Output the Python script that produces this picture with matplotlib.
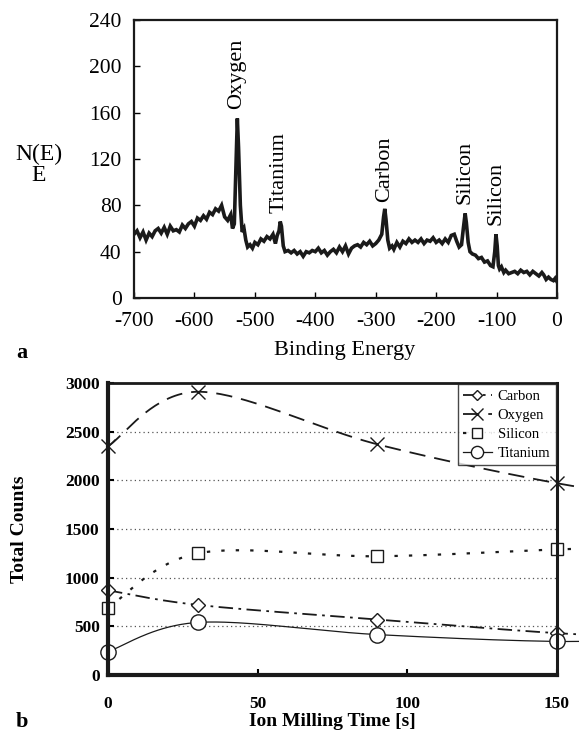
import numpy as np
import matplotlib
matplotlib.use("Agg")
import matplotlib.pyplot as plt
from matplotlib.lines import Line2D

plt.rcParams['font.family'] = ['Liberation Serif', 'DejaVu Serif']
plt.rcParams['axes.unicode_minus'] = False

# ---------------- data: panel a (XPS survey spectrum) ----------------
energy = [-700, -695, -690, -685, -680, -675, -670, -665, -660, -655, -650, -645, -640, -635,
          -630, -625, -620, -615, -610, -605, -600, -595, -590, -585, -580, -575, -570, -565,
          -560, -555, -550, -545, -540, -537, -534, -531, -529, -527, -524, -521, -518, -515,
          -512, -508, -504, -500, -495, -490, -485, -480, -475, -470, -466, -463, -460, -458,
          -456, -453, -450, -445, -440, -435, -430, -425, -420, -415, -410, -405, -400, -395,
          -390, -385, -380, -375, -370, -365, -360, -355, -350, -345, -340, -335, -330, -325,
          -320, -315, -310, -305, -300, -295, -290, -287, -285, -283, -280, -277, -273, -270,
          -265, -260, -255, -250, -245, -240, -235, -230, -225, -220, -215, -210, -205, -200,
          -195, -190, -185, -180, -175, -170, -166, -162, -158, -155, -152, -150, -147, -144,
          -140, -135, -130, -125, -120, -115, -110, -106, -103, -101, -99, -97, -95, -92,
          -88, -85, -80, -75, -70, -65, -60, -55, -50, -45, -40, -35, -30, -25, -22, -18,
          -14, -10, -6, -3, 0]
counts = [55, 58, 52, 57, 50, 56, 53, 58, 60, 56, 61, 55, 62, 58,
          59, 57, 63, 60, 64, 66, 62, 69, 67, 71, 68, 74, 72, 77,
          75, 80, 70, 67, 72, 60, 64, 120, 155, 130, 80, 57, 60, 50,
          44, 46, 43, 48, 46, 51, 49, 53, 51, 55, 47, 54, 58, 66,
          62, 45, 40, 41, 39, 41, 38, 40, 36, 40, 39, 41, 40, 43,
          39, 41, 37, 40, 42, 39, 44, 40, 45, 38, 43, 45, 46, 44,
          48, 46, 49, 45, 47, 50, 55, 70, 77, 68, 50, 43, 45, 42,
          48, 44, 49, 47, 51, 48, 50, 48, 51, 47, 50, 49, 52, 48,
          50, 47, 51, 48, 54, 55, 49, 44, 46, 60, 73, 65, 48, 40,
          38, 37, 34, 35, 31, 32, 28, 27, 40, 55, 45, 28, 25, 27,
          22, 24, 21, 22, 23, 21, 24, 22, 23, 20, 23, 21, 19, 22, 20, 16,
          18, 16, 15, 17, 14]
peak_names = ['Oxygen', 'Titanium', 'Carbon', 'Silicon', 'Silicon']
peak_x = [-530, -460, -286, -152, -101]
peak_label_y = [163, 73, 83, 81, 63]

# ---------------- data: panel b (depth profile) ----------------
mill_time = [0, 30, 90, 150]
carbon = [870, 720, 570, 430]
oxygen = [2350, 2910, 2370, 1970]
silicon = [690, 1250, 1220, 1290]
titanium = [240, 540, 415, 345]
# curve continuation read beyond the right spine (picture is cut at the edge)
tail_time = 185
tail = {'Carbon': 390, 'Oxygen': 1830, 'Silicon': 1320, 'Titanium': 380}


def smooth(xs, ys, n=40):
    """Excel-like smoothed line (Bezier with tension 1/6) through points."""
    P = np.column_stack([xs, ys]).astype(float)
    out = []
    for i in range(len(P) - 1):
        p0 = P[i - 1] if i > 0 else P[i]
        p1, p2 = P[i], P[i + 1]
        p3 = P[i + 2] if i + 2 < len(P) else P[i + 1]
        c1 = p1 + (p2 - p0) / 6.0
        c2 = p2 - (p3 - p1) / 6.0
        t = np.linspace(0, 1, n)[:, None]
        seg = ((1 - t) ** 3) * p1 + 3 * ((1 - t) ** 2) * t * c1 + 3 * (1 - t) * t ** 2 * c2 + t ** 3 * p2
        out.append(seg if i == 0 else seg[1:])
    out = np.vstack(out)
    return out[:, 0], out[:, 1]


W, H = 579, 738
fig = plt.figure(figsize=(W / 100, H / 100), dpi=100)

# ---------------- panel a ----------------
axa = fig.add_axes([134 / W, 1 - 298 / H, (557 - 134) / W, (298 - 20) / H])
axa.plot(energy, counts, color='#1a1a1a', lw=2.6, solid_joinstyle='miter')
axa.set_xlim(-700, 0)
axa.set_ylim(0, 240)
axa.set_xticks(range(-700, 1, 100))
axa.set_yticks(range(0, 241, 40))
axa.tick_params(direction='in', length=4, width=1, labelsize=15.5, pad=9)
axa.tick_params(axis='x', pad=10)
for s in axa.spines.values():
    s.set_linewidth(1.6)
    s.set_color('#1a1a1a')
for name, x, y in zip(peak_names, peak_x, peak_label_y):
    axa.text(x, y, name, rotation=90, ha='center', va='bottom', fontsize=16)
axa.set_xlabel('Binding Energy', fontsize=16)
axa.xaxis.set_label_coords((345 - 134) / 423, -(351 - 298) / 278)
axa.xaxis.label.set_va('center')
fig.text(39 / W, 1 - 165 / H, 'N(E)\nE', ha='center', va='center', fontsize=17, linespacing=1.0)
fig.text(16 / W, 1 - 353 / H, 'a', ha='left', va='center', fontsize=16, fontweight='bold')

# ---------------- panel b ----------------
axb = fig.add_axes([108 / W, 1 - 675 / H, (557 - 108) / W, (675 - 383) / H])
series = [
    ('Carbon', carbon, 'D', (0, (8, 3, 1.5, 3)), 1.3, 7),
    ('Oxygen', oxygen, 'x', (0, (9, 5)), 1.3, 10),
    ('Silicon', silicon, 's', (0, (1.5, 5)), 1.6, 9),
    ('Titanium', titanium, 'o', '-', 0.9, 11),
]
handles = []
for name, vals, mk, ls, lw, ms in series:
    xs = mill_time + [tail_time]
    ys = vals + [tail[name]]
    cx, cy = smooth(xs, ys)
    axb.plot(cx, cy, color='#1a1a1a', lw=lw, linestyle=ls, clip_on=False, zorder=3)
    axb.plot(mill_time, vals, linestyle='none', marker=mk, ms=ms, mfc='white' if mk != 'x' else 'none',
             mec='#1a1a1a', mew=1.0, clip_on=False, zorder=4)
    handles.append(Line2D([], [], color='#1a1a1a', lw=lw, linestyle=ls, marker=mk, ms=ms * 0.8,
                          mfc='white', mec='#1a1a1a', mew=1.0))
axb.set_xlim(0, 150)
axb.set_ylim(0, 3000)
axb.set_xticks([0, 50, 100, 150])
axb.set_yticks(range(0, 3001, 500))
for yv in range(500, 3000, 500):
    axb.axhline(yv, color='#555555', lw=0.9, linestyle=(0, (1, 2.5)), zorder=1)
axb.tick_params(direction='in', length=4, width=1.5, labelsize=12.5, pad=6)
axb.tick_params(axis='x', pad=15)
for lab in axb.get_xticklabels() + axb.get_yticklabels():
    lab.set_fontweight('bold')
axb.spines['left'].set_linewidth(3)
axb.spines['bottom'].set_linewidth(3)
axb.spines['top'].set_linewidth(2)
axb.spines['right'].set_linewidth(2.2)
for s in axb.spines.values():
    s.set_color('#1a1a1a')
    s.set_zorder(5)
axb.set_xlabel('Ion Milling Time [s]', fontsize=14, fontweight='bold')
axb.xaxis.set_label_coords((332 - 108) / 449, -(722 - 675) / 292)
axb.xaxis.label.set_va('center')
axb.set_ylabel('Total Counts', fontsize=14, fontweight='bold')
axb.yaxis.set_label_coords((20 - 108) / 449, 0.5)
axb.yaxis.label.set_va('center')
leg = axb.legend(handles, [s[0] for s in series], loc='upper right', fontsize=10.5,
                 frameon=True, fancybox=False, borderaxespad=0.1, handlelength=2.0,
                 handletextpad=0.4, labelspacing=0.4, borderpad=0.35)
leg.get_frame().set_edgecolor('#1a1a1a')
leg.get_frame().set_linewidth(1.0)
leg.set_zorder(6)
fig.text(16 / W, 1 - 722 / H, 'b', ha='left', va='center', fontsize=16, fontweight='bold')

fig.savefig('out.png', dpi=100)
